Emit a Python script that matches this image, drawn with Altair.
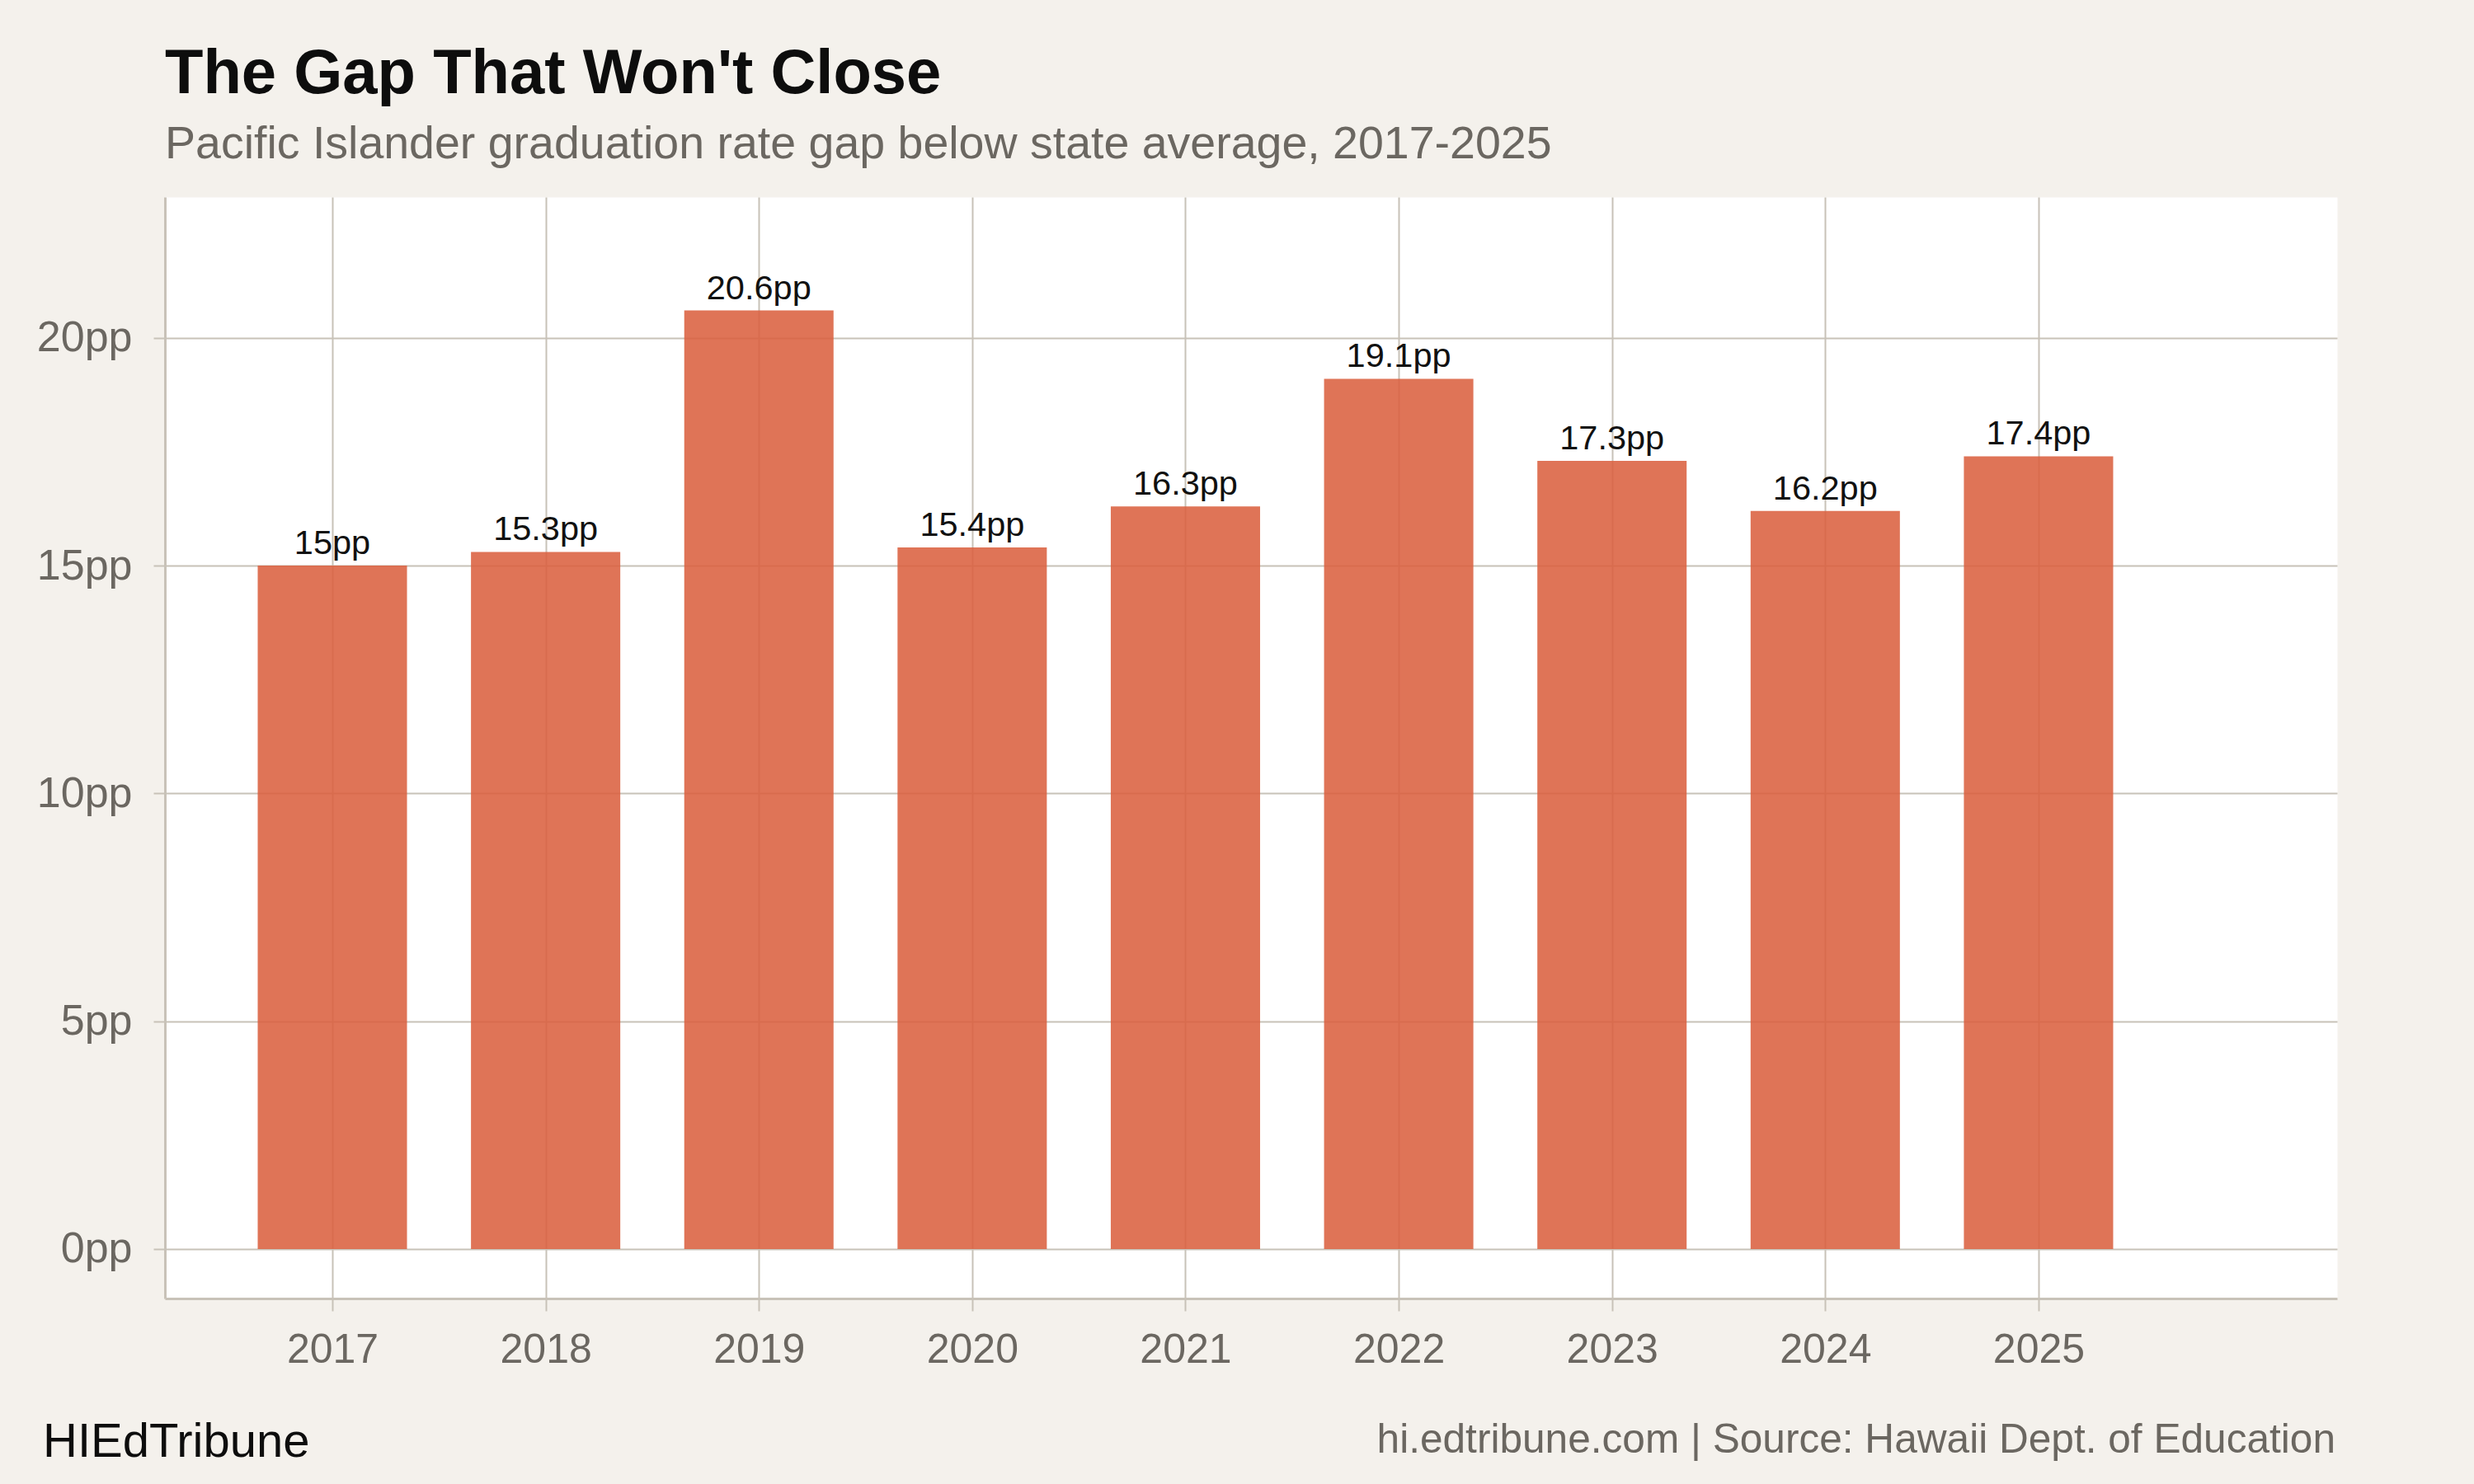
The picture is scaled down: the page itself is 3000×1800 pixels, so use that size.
import altair as alt
import pandas as pd

years = [2017, 2018, 2019, 2020, 2021, 2022, 2023, 2024, 2025]
gaps = [15.0, 15.3, 20.6, 15.4, 16.3, 19.1, 17.3, 16.2, 17.4]
y_ticks = [0, 5, 10, 15, 20]

title_text = "The Gap That Won't Close"
subtitle_text = "Pacific Islander graduation rate gap below state average, 2017-2025"
brand_text = "HIEdTribune"
caption_text = "hi.edtribune.com | Source: Hawaii Dept. of Education"

df = pd.DataFrame({"year": years, "gap": gaps})

FONT = "Liberation Sans"
GRID = "#c8c2b8"
GREY = "#6b6761"
BG = "#f4f1ec"

W, H = 2634, 1336
PAD_L, PAD_T = 200, 239

xscale = alt.Scale(domain=[2016.215, 2026.40], nice=False, zero=False)
yscale = alt.Scale(domain=[-1.086, 23.09], nice=False, zero=False)

base = alt.Chart(df).transform_calculate(
    x0="datum.year - 0.35",
    x1="datum.year + 0.35",
    label="datum.gap + 'pp'",
)

bars = base.mark_bar(color="#DA5F3E", opacity=0.87).encode(
    x=alt.X("x0:Q", scale=xscale, title=None,
            axis=alt.Axis(values=years, format="d", grid=True, labelFontSize=50,
                          labelPadding=22, tickSize=15)),
    x2="x1:Q",
    y=alt.Y("gap:Q", scale=yscale, title=None,
            axis=alt.Axis(values=y_ticks, labelExpr="datum.value + 'pp'", grid=True,
                          labelFontSize=52, labelPadding=26, tickSize=14)),
    y2=alt.datum(0),
)

labels = base.mark_text(font=FONT, fontSize=41.5, color="#111111", baseline="alphabetic",
                        align="center", dy=-14).encode(
    x=alt.X("year:Q", scale=xscale),
    y=alt.Y("gap:Q", scale=yscale),
    text="label:N",
)

brand = alt.Chart(pd.DataFrame({"t": [brand_text]})).mark_text(
    font=FONT, fontSize=58, color="#0d0d0d", align="left", baseline="alphabetic"
).encode(x=alt.value(52 - PAD_L), y=alt.value(1767 - PAD_T), text="t:N")

caption = alt.Chart(pd.DataFrame({"t": [caption_text]})).mark_text(
    font=FONT, fontSize=49.6, color=GREY, align="right", baseline="alphabetic"
).encode(x=alt.value(2832 - PAD_L), y=alt.value(1762 - PAD_T), text="t:N")

chart = alt.layer(bars, labels, brand, caption).properties(
    width=W, height=H,
    title=alt.TitleParams(
        text=title_text, subtitle=subtitle_text, anchor="start", frame="group",
        font=FONT, fontSize=76, fontWeight="bold", color="#0d0d0d",
        subtitleFont=FONT, subtitleFontSize=55.5, subtitleColor=GREY,
        subtitlePadding=19, offset=35,
    ),
    autosize=alt.AutoSizeParams(type="none"),
    padding={"left": PAD_L, "top": PAD_T, "right": 3000 - PAD_L - W, "bottom": 1800 - PAD_T - H},
    background=BG,
).configure_view(
    fill="white", stroke="transparent"
).configure_axis(
    labelFont=FONT, labelColor=GREY, gridColor=GRID, gridWidth=2,
    domainColor=GRID, domainWidth=3, tickColor=GRID, tickWidth=2,
)

chart.save("out.html", embed_options={"renderer": "svg", "actions": False})
